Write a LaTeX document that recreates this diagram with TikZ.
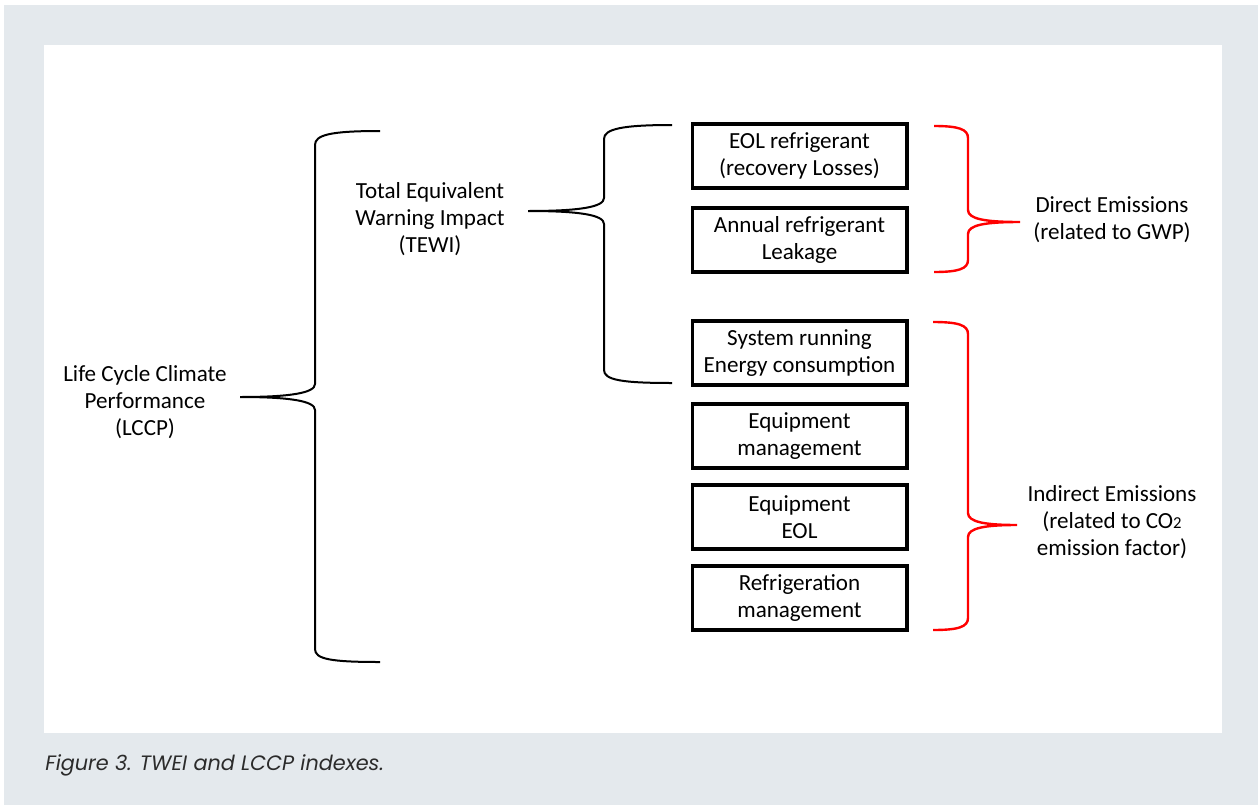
\documentclass[tikz,border=0pt]{standalone}
\usepackage{fontspec}
\setmainfont{Carlito}
\newfontfamily\capfont{Poppins}
\usetikzlibrary{positioning}
\definecolor{panelgray}{HTML}{E4E9ED}
\definecolor{capgray}{HTML}{2B2B2B}

\begin{document}
\begin{tikzpicture}[
        x=0.75pt, y=-0.75pt,
        every node/.style={font=\fontsize{17.3}{20.25}\selectfont, align=center, inner sep=0pt},
        item/.style={draw, line width=2.5pt, outer sep=0pt, minimum width=161pt, minimum height=48pt},
        brace/.style={line width=1.5pt},
        redbrace/.style={red, line width=1.8pt},
        node distance=12.75pt
      ]
      \useasboundingbox (0,0) rectangle (1260,807);
      \fill[panelgray] (4,5) rectangle (1258,805);
      \fill[white] (44,45) rectangle (1222,733);

      % labels
      \node (lccp) at (145,402) {Life Cycle Climate\\Performance\\(LCCP)};
      \node (tewi) at (430,219) {Total Equivalent\\Warning Impact\\(TEWI)};
      \node (direct) at (1112,220) {Direct Emissions\\(related to GWP)};
      \node (indirect) at (1112,522) {Indirect Emissions\\(related to CO{\fontsize{12.5}{12}\selectfont 2}\\emission factor)};

      % boxes
      \node[item] (eol) at (799.5,156) {EOL refrigerant\\(recovery Losses)};
      \node[item, below=15pt of eol] (leak) {Annual refrigerant\\Leakage};
      \node[item, below=36.75pt of leak] (energy) {System running\\Energy consumption};
      \node[item, below=14.25pt of energy] (equip) {Equipment\\management};
      \node[item, below=of equip] (equipeol) {Equipment\\EOL};
      \node[item, below=of equipeol] (refmgmt) {Refrigeration\\management};

      % braces
      \coordinate (lccptip) at (240,397);
      \coordinate (tewitip) at (528,211);
      \coordinate (directtip) at (1020,222);
      \coordinate (indirecttip) at (1017,525);

      \draw[brace] (380,131) .. controls (330,131) and (315,135) .. (315,145)
        -- (315,384) .. controls (315,393) and (290,397) .. (lccptip)
        .. controls (290,397) and (315,401) .. (315,410)
        -- (315,649) .. controls (315,659) and (330,662) .. (380,662);
      \draw[brace] (672,125) .. controls (622,125) and (604,129) .. (604,139)
        -- (604,198) .. controls (604,207) and (580,211) .. (tewitip)
        .. controls (580,211) and (604,215) .. (604,224)
        -- (604,370) .. controls (604,380) and (622,383) .. (672,383);
      \draw[redbrace] (934,126) .. controls (958,126) and (968,129) .. (968,138)
        -- (968,210) .. controls (968,219) and (985,222) .. (directtip)
        .. controls (985,222) and (968,225) .. (968,234)
        -- (968,260) .. controls (968,269) and (958,272) .. (934,272);
      \draw[redbrace] (933,322) .. controls (958,322) and (968,325) .. (968,334)
        -- (968,513) .. controls (968,522) and (985,525) .. (indirecttip)
        .. controls (985,525) and (968,528) .. (968,537)
        -- (968,618) .. controls (968,627) and (958,630) .. (933,630);

      % caption
      \node[anchor=west, text=capgray, font=\capfont\itshape\fontsize{15.6}{18}\selectfont] (caption) at (45,765) {Figure 3. TWEI and LCCP indexes.};
    \end{tikzpicture}
\end{document}
